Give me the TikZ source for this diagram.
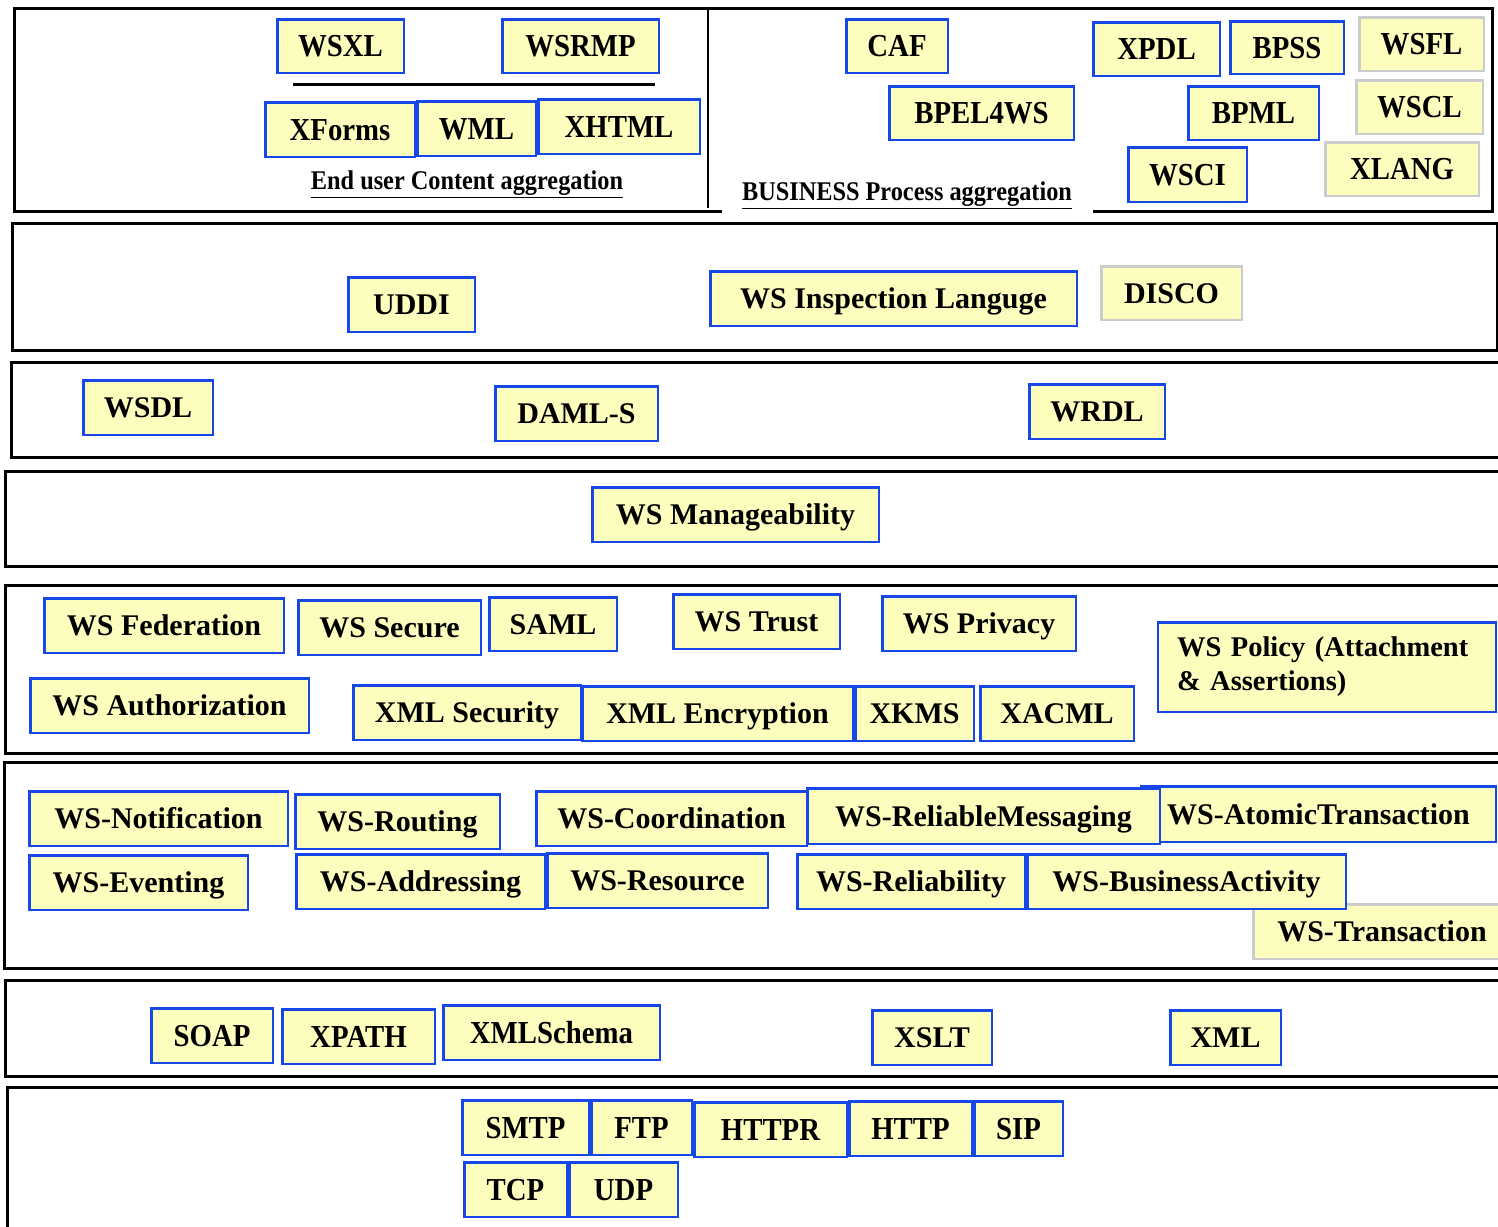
\documentclass[tikz,border=0pt]{standalone}
\usepackage{fontspec}
\setmainfont{Liberation Serif}
\newfontfamily\condfont{Liberation Serif}[FakeStretch=0.9]
\definecolor{boxfill}{RGB}{253,253,190}
\definecolor{boxblue}{RGB}{22,72,232}
\definecolor{boxgrey}{RGB}{204,204,204}
\newcommand\mybox[7]{\node[#1, minimum width={(#4)-(#2)-2.5}, minimum height={(#5)-(#3)-2.5}] (#6) at ({((#2)+(#4))/2},{((#3)+(#5))/2}) {#7};}
\tikzset{
  boxbase/.style={fill=boxfill, line width=2.5pt, inner sep=0pt},
  tbox/.style={boxbase, draw=boxblue, font=\condfont\fontsize{32}{36}\selectfont\bfseries, text height=21pt, text depth=0pt},
  gbox/.style={boxbase, draw=boxblue, font=\fontsize{30}{34}\selectfont\bfseries, text height=20pt, text depth=0pt},
  greyb/.style={draw=boxgrey},
  panel/.style={draw=black, line width=3pt},
  lab/.style={font=\condfont\fontsize{27}{30}\selectfont\bfseries, inner sep=0pt}
}
\begin{document}
\begin{tikzpicture}[x=1pt,y=-1pt]
\useasboundingbox[fill=white] (0,0) rectangle (1498,1226);
% panel 1 frame
\coordinate (f1) at (722,211);
\coordinate (f2) at (14,211);
\coordinate (f3) at (14,8);
\coordinate (f4) at (1492,8);
\coordinate (f5) at (1492,211);
\coordinate (f6) at (1093,211);
\draw[panel] (f1) -- (f2) -- (f3) -- (f4) -- (f5) -- (f6);
\coordinate (d1) at (708,10);
\coordinate (d2) at (708,208);
\draw[line width=2.2pt] (d1) -- (d2);
\coordinate (h1) at (293,84);
\coordinate (h2) at (655,84);
\draw[line width=3pt] (h1) -- (h2);
% other panels
\draw[panel] (12,223) rectangle (1497,350);
\draw[panel] (11,362) rectangle (1512,457);
\draw[panel] (5,471) rectangle (1512,566);
\draw[panel] (5,585) rectangle (1512,753);
\draw[panel] (4,762) rectangle (1512,968);
\draw[panel] (5,980) rectangle (1512,1076);
\draw[panel] (7,1087) rectangle (1512,1240);
% panel 1 boxes
\mybox{tbox}{276}{18}{405}{74}{wsxl}{WSXL}
\mybox{tbox}{501}{18}{660}{74}{wsrmp}{WSRMP}
\mybox{tbox}{264}{101}{416}{158}{xforms}{XForms}
\mybox{tbox}{416}{100}{537}{157}{wml}{WML}
\mybox{tbox}{537}{98}{701}{155}{xhtml}{XHTML}
\node[lab] (endlab) at (467,184) {\underline{End user Content aggregation}};
\mybox{tbox}{845}{18}{949}{74}{caf}{CAF}
\mybox{tbox}{888}{85}{1075}{141}{bpel}{BPEL4WS}
\mybox{tbox}{1092}{21}{1221}{77}{xpdl}{XPDL}
\mybox{tbox}{1229}{20}{1345}{75}{bpss}{BPSS}
\mybox{tbox,greyb}{1358}{16}{1485}{72}{wsfl}{WSFL}
\mybox{tbox}{1187}{85}{1320}{141}{bpml}{BPML}
\mybox{tbox,greyb}{1355}{79}{1484}{135}{wscl}{WSCL}
\mybox{tbox}{1127}{146}{1248}{203}{wsci}{WSCI}
\mybox{tbox,greyb}{1324}{141}{1480}{197}{xlang}{XLANG}
\node[lab] (bizlab) at (907,195) {\underline{BUSINESS Process aggregation}};
% panel 2
\mybox{gbox}{347}{276}{476}{333}{uddi}{UDDI}
\mybox{gbox}{709}{270}{1078}{327}{wsil}{WS Inspection Languge}
\mybox{gbox,greyb}{1100}{265}{1243}{321}{disco}{DISCO}
% panel 3
\mybox{gbox}{82}{379}{214}{436}{wsdl}{WSDL}
\mybox{gbox}{494}{385}{659}{442}{damls}{DAML-S}
\mybox{gbox}{1028}{383}{1166}{440}{wrdl}{WRDL}
% panel 4
\mybox{gbox}{591}{486}{880}{543}{wsman}{WS Manageability}
% panel 5
\mybox{gbox}{43}{597}{285}{654}{wsfed}{WS Federation}
\mybox{gbox}{297}{599}{482}{656}{wssec}{WS Secure}
\mybox{gbox}{488}{596}{618}{652}{saml}{SAML}
\mybox{gbox}{672}{593}{841}{650}{wstrust}{WS Trust}
\mybox{gbox}{881}{595}{1077}{652}{wspriv}{WS Privacy}
\node[boxbase, draw=boxblue, font=\fontsize{28.5}{34}\selectfont\bfseries, minimum width=337.5, minimum height=89.5, text width=300, inner xsep=19, align=left] (policy) at (1327,667) {WS Policy (Attachment\\ \& Assertions)};
\mybox{gbox}{29}{677}{310}{734}{wsauth}{WS Authorization}
\mybox{gbox}{352}{684}{582}{741}{xmlsec}{XML Security}
\mybox{gbox}{581}{685}{854}{742}{xmlenc}{XML Encryption}
\mybox{gbox}{854}{685}{975}{742}{xkms}{XKMS}
\mybox{gbox}{979}{685}{1135}{742}{xacml}{XACML}
% panel 6
\mybox{gbox}{28}{790}{289}{847}{wsnotif}{WS-Notification}
\mybox{gbox}{294}{793}{501}{850}{wsrout}{WS-Routing}
\mybox{gbox}{535}{790}{808}{847}{wscoord}{WS-Coordination}
\mybox{gbox}{1140}{785}{1497}{843}{wsatomic}{WS-AtomicTransaction}
\mybox{gbox}{806}{787}{1161}{845}{wsrm}{WS-ReliableMessaging}
\mybox{gbox}{28}{854}{249}{911}{wsevent}{WS-Eventing}
\mybox{gbox}{295}{853}{546}{910}{wsaddr}{WS-Addressing}
\mybox{gbox}{546}{852}{769}{909}{wsres}{WS-Resource}
\mybox{gbox}{796}{853}{1026}{910}{wsrel}{WS-Reliability}
\mybox{gbox,greyb}{1252}{903}{1512}{960}{wstrans}{WS-Transaction}
\mybox{gbox}{1026}{853}{1347}{910}{wsba}{WS-BusinessActivity}
% panel 7
\mybox{tbox}{150}{1007}{274}{1064}{soap}{SOAP}
\mybox{tbox}{281}{1008}{436}{1065}{xpath}{XPATH}
\mybox{tbox}{442}{1004}{661}{1061}{xmlschema}{XMLSchema}
\mybox{gbox}{871}{1009}{993}{1066}{xslt}{XSLT}
\mybox{gbox}{1169}{1009}{1282}{1066}{xml}{XML}
% panel 8
\mybox{tbox}{461}{1099}{590}{1156}{smtp}{SMTP}
\mybox{tbox}{590}{1099}{693}{1156}{ftp}{FTP}
\mybox{tbox}{693}{1101}{848}{1158}{httpr}{HTTPR}
\mybox{tbox}{848}{1100}{973}{1157}{http}{HTTP}
\mybox{tbox}{973}{1100}{1064}{1157}{sip}{SIP}
\mybox{tbox}{463}{1161}{568}{1218}{tcp}{TCP}
\mybox{tbox}{568}{1161}{679}{1218}{udp}{UDP}
\end{tikzpicture}
\end{document}
